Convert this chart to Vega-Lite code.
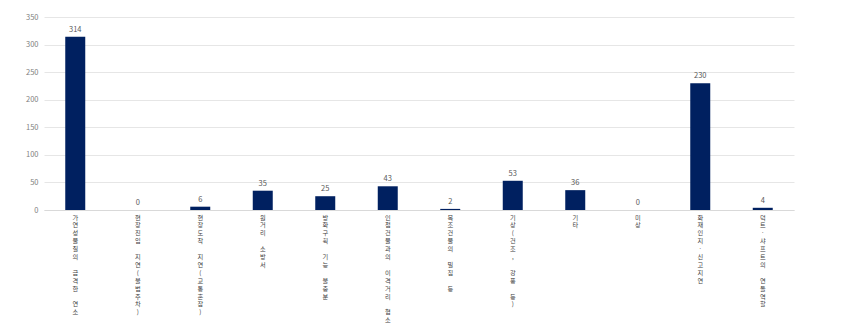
{
  "$schema": "https://vega.github.io/schema/vega-lite/v6.json",
  "width": 750,
  "height": 193,
  "autosize": {"type": "none"},
  "padding": {"left": 44, "top": 17, "right": 59, "bottom": 118},
  "background": "white",
  "config": {"view": {"stroke": null}, "font": "Noto Sans CJK KR"},
  "data": {"values": [
    {"cause": "가연성물질의 급격한 연소", "count": 314},
    {"cause": "현장진입 지연(불법주차)", "count": 0},
    {"cause": "현장도착 지연(교통혼잡)", "count": 6},
    {"cause": "원거리 소방서", "count": 35},
    {"cause": "방화구획 기능 불충분", "count": 25},
    {"cause": "인접건물과의 이격거리 협소", "count": 43},
    {"cause": "목조건물의 밀집 등", "count": 2},
    {"cause": "기상(건조, 강풍 등)", "count": 53},
    {"cause": "기타", "count": 36},
    {"cause": "미상", "count": 0},
    {"cause": "화재인지·신고지연", "count": 230},
    {"cause": "덕트·샤프트의 연돌역할", "count": 4}
  ]},
  "encoding": {
    "x": {"field": "cause", "type": "nominal", "sort": null,
      "scale": {"paddingInner": 0.68, "paddingOuter": 0.34},
      "axis": {"title": null, "labelAngle": 0, "ticks": false, "domainColor": "#d9d9d9",
        "labelExpr": "split(replace(datum.label, / /g, '\u2800'), '')", "labelLineHeight": 7.9, "labelFontSize": 6.2,
        "labelColor": "#404040", "labelPadding": 4, "labelBaseline": "top"}},
    "y": {"field": "count", "type": "quantitative",
      "scale": {"domain": [0, 350]},
      "axis": {"title": null, "values": [0, 50, 100, 150, 200, 250, 300, 350], "domain": false, "ticks": false,
        "gridColor": "#e6e6e6", "labelColor": "#808080", "labelFontSize": 7.5, "labelPadding": 6}}
  },
  "layer": [
    {"mark": {"type": "bar", "color": "#002060"}},
    {"mark": {"type": "text", "dy": -7, "fontSize": 7.5, "color": "#595959"},
      "encoding": {"text": {"field": "count", "type": "quantitative"}}}
  ]
}
